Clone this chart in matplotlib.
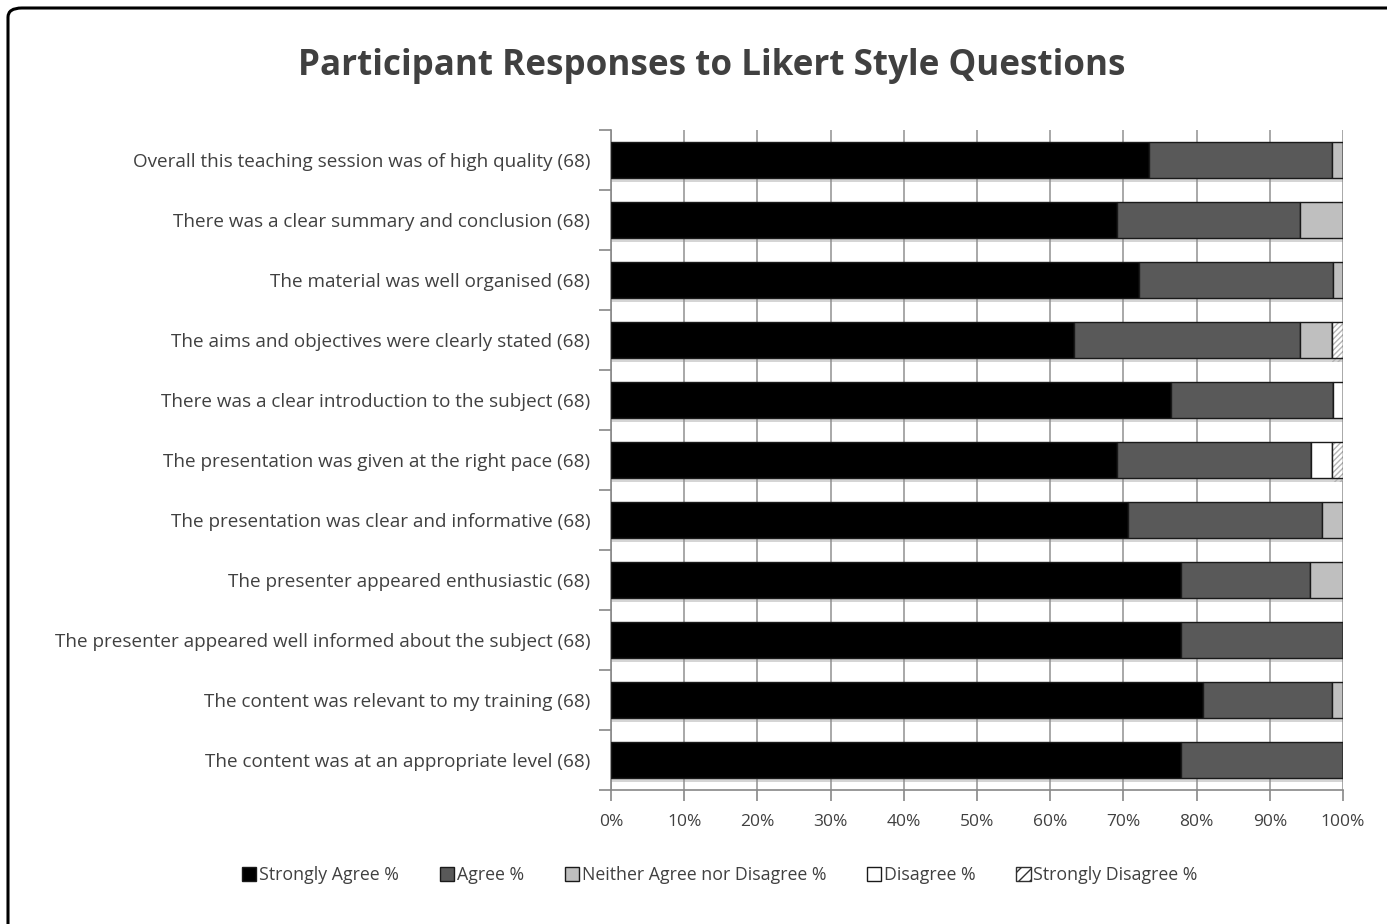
import matplotlib
matplotlib.use("Agg")
import matplotlib.pyplot as plt
import matplotlib.patheffects as pe
from matplotlib.patches import FancyBboxPatch, Patch
import numpy as np

plt.rcParams['font.family'] = ['Open Sans', 'DejaVu Sans']

categories = [
    "Overall this teaching session was of high quality (68)",
    "There was a clear summary and conclusion (68)",
    "The material was well organised (68)",
    "The aims and objectives were clearly stated (68)",
    "There was a clear introduction to the subject (68)",
    "The presentation was given at the right pace (68)",
    "The presentation was clear and informative (68)",
    "The presenter appeared enthusiastic (68)",
    "The presenter appeared well informed about the subject (68)",
    "The content was relevant to my training (68)",
    "The content was at an appropriate level (68)",
]
strongly_agree = [73.5, 69.1, 72.1, 63.2, 76.5, 69.1, 70.6, 77.9, 77.9, 80.9, 77.9]
agree          = [25.0, 25.0, 26.5, 30.9, 22.1, 26.5, 26.5, 17.6, 22.1, 17.6, 22.1]
neither        = [1.5, 5.9, 1.4, 4.4, 0.0, 0.0, 2.9, 4.5, 0.0, 1.5, 0.0]
disagree       = [0.0, 0.0, 0.0, 0.0, 1.4, 2.9, 0.0, 0.0, 0.0, 0.0, 0.0]
strongly_dis   = [0.0, 0.0, 0.0, 1.5, 0.0, 1.5, 0.0, 0.0, 0.0, 0.0, 0.0]
series_names = ["Strongly Agree %", "Agree %", "Neither Agree nor Disagree %",
                "Disagree %", "Strongly Disagree %"]
xticks = [0, 10, 20, 30, 40, 50, 60, 70, 80, 90, 100]

series = [strongly_agree, agree, neither, disagree, strongly_dis]
colors = ['#000000', '#595959', '#bfbfbf', '#ffffff', '#ffffff']
hatches = [None, None, None, None, '//////']

W, H = 1387, 924
fig = plt.figure(figsize=(W / 100, H / 100), dpi=100)

# frame border (only top/left visible, extends past the canvas)
border = FancyBboxPatch((8 / W, -0.2), 1.2, 1 - 8 / H + 0.2,
                        boxstyle="round,pad=0,rounding_size=0.01",
                        transform=fig.transFigure, facecolor='none',
                        edgecolor='black', linewidth=2.2)
fig.patches.append(border)

ax = fig.add_axes([611 / W, 1 - 790 / H, (1343 - 611) / W, (790 - 130) / H])

n = len(categories)
y = np.arange(n)
left = np.zeros(n)
shadow = [pe.SimplePatchShadow(offset=(0, -3), shadow_rgbFace='#888888', alpha=0.35), pe.Normal()]
for vals, c, h, name in zip(series, colors, hatches, series_names):
    vals = np.array(vals)
    if h is not None:
        hb = ax.barh(y, vals, left=left, height=0.6, color=c, edgecolor='#b5b5b5',
                     linewidth=0, hatch=h, zorder=3)
        for b in hb:
            b.set_path_effects(shadow)
        ax.barh(y, vals, left=left, height=0.6, facecolor='none', edgecolor='#1a1a1a',
                linewidth=1.0, zorder=4)
    else:
        bars = ax.barh(y, vals, left=left, height=0.6, color=c, edgecolor='#1a1a1a',
                       linewidth=1.0, zorder=3)
        for b in bars:
            b.set_path_effects(shadow)
    left = left + vals

ax.set_xlim(0, 100)
ax.set_ylim(n - 0.5, -0.5)
ax.set_yticks(y)
ax.set_yticklabels(categories, fontsize=13.6, color='#404040')
ax.set_yticks(np.arange(n + 1) - 0.5, minor=True)
ax.tick_params(axis='y', which='major', length=0, pad=15)
ax.tick_params(axis='y', which='minor', length=9, color='#888888', width=1.2)
ax.set_xticks(xticks)
ax.set_xticklabels([f"{t}%" for t in xticks], fontsize=12.5, color='#404040')
ax.tick_params(axis='x', length=8, color='#888888', width=1.2, pad=9)
ax.grid(axis='x', color='#999999', linewidth=1.2, zorder=0)
ax.set_axisbelow(True)
for s in ['top', 'right']:
    ax.spines[s].set_visible(False)
ax.spines['left'].set_color('#888888')
ax.spines['bottom'].set_color('#888888')
ax.spines['left'].set_linewidth(1.2)
ax.spines['bottom'].set_linewidth(1.2)

fig.text(712 / W, 1 - 66 / H, "Participant Responses to Likert Style Questions",
         fontsize=25.2, fontweight='bold', color='#404040', ha='center', va='center')

handles = []
for c, h in zip(colors, hatches):
    if h is not None:
        handles.append(Patch(facecolor=c, edgecolor='#303030', hatch='///', linewidth=1.0))
    else:
        handles.append(Patch(facecolor=c, edgecolor='#1a1a1a', linewidth=1.0))
fig.legend(handles, series_names, loc='center', bbox_to_anchor=(720 / W, 1 - 875 / H),
           ncol=5, frameon=False, fontsize=12.8, handlelength=0.8, handleheight=0.8,
           handletextpad=0.15, columnspacing=2.3, labelcolor='#404040')

fig.savefig("out.png", dpi=100)
